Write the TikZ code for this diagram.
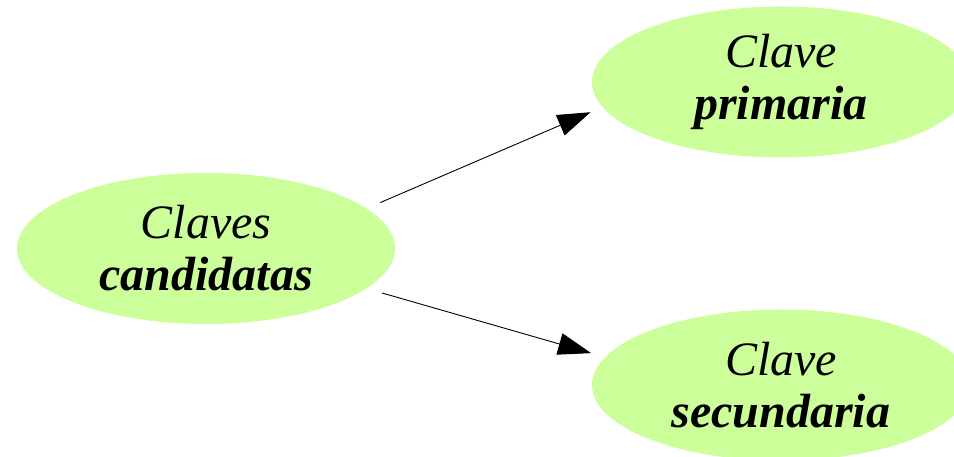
\documentclass[tikz,border=0pt]{standalone}
\usepackage{fontspec}
\setmainfont{Liberation Serif}
\usetikzlibrary{shapes.geometric, positioning, arrows.meta}
\definecolor{clavegreen}{RGB}{204,255,153}

\begin{document}
\begin{tikzpicture}[x=1pt, y=1pt, on grid,
    clave/.style={ellipse, fill=clavegreen, minimum width=378pt, minimum height=151pt,
        inner sep=0pt, align=center, font=\fontsize{48}{52}\selectfont\itshape},
    flecha/.style={-{Triangle[length=33pt, width=22pt]}, line width=0.9pt}]

    %% BOUNDING BOX (same margins as the reference)
    \useasboundingbox (-206,248.5) rectangle (748,-208.5);

    %% NODES
    \node[clave] (cand) {Claves\\\textbf{candidatas}};
    \node[clave] (prim) [above right=166.5pt and 575pt of cand] {Clave\\\textbf{primaria}};
    \node[clave] (sec) [below right=136.5pt and 575pt of cand] {Clave\\\textbf{secundaria}};

    %% CONNECTORS
    \draw[flecha, shorten <=15pt, shorten >=13pt] (cand.14) -- (prim.188);
    \draw[flecha, shorten <=16pt, shorten >=14.5pt] (cand.346) -- (sec.171);
\end{tikzpicture}
\end{document}
